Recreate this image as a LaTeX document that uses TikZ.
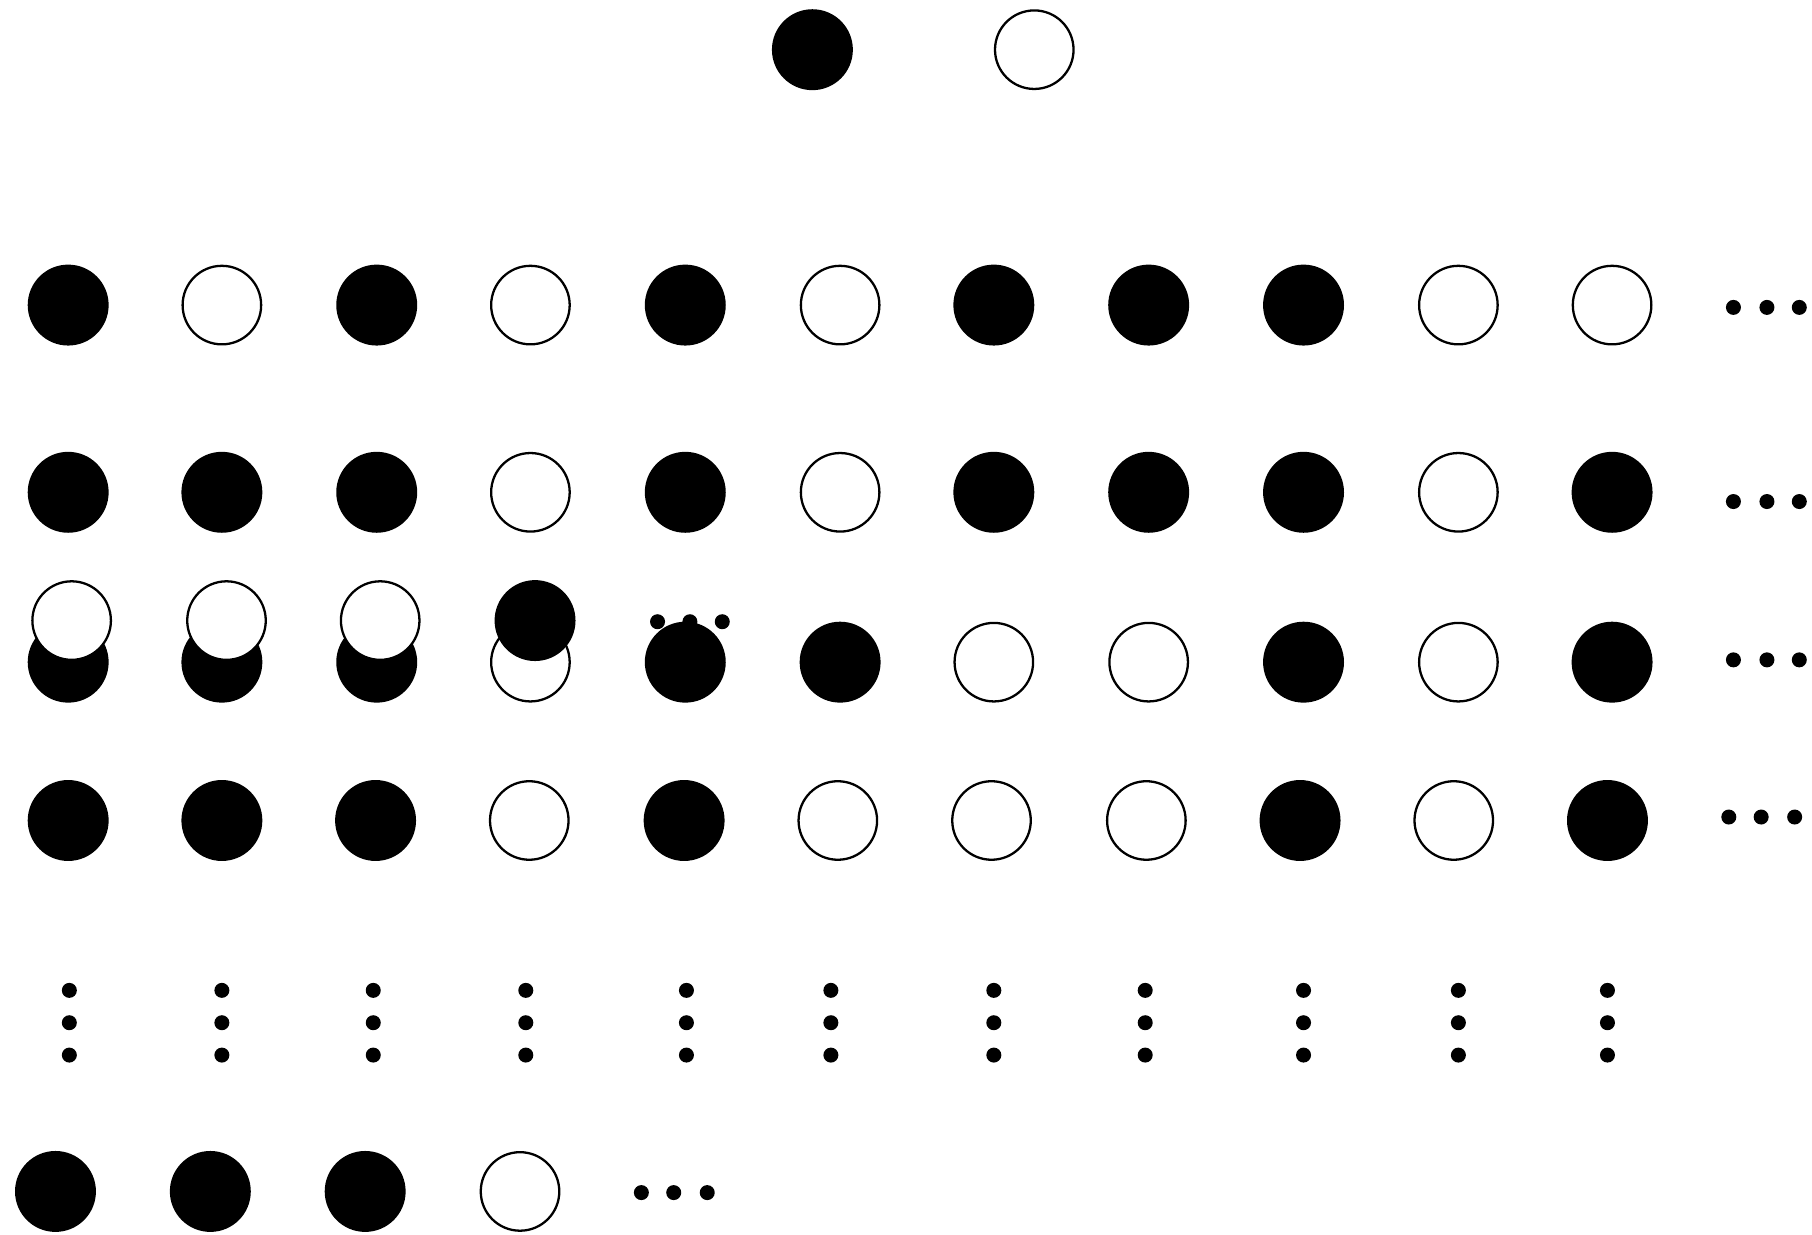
\documentclass[tikz,border=0pt]{standalone}
\begin{document}
\begin{tikzpicture}[x=0.011556cm,y=-0.011556cm,
  bl/.style={circle,fill=black,minimum size=0.809cm,inner sep=0pt,outer sep=0pt},
  wh/.style={circle,draw=black,fill=white,line width=0.65pt,minimum size=0.785cm,inner sep=0pt,outer sep=0pt},
  dt/.style={circle,fill=black,minimum size=0.15cm,inner sep=0pt,outer sep=0pt}]
\useasboundingbox (0,0) rectangle (1568,1068);
% top
\node[bl] (t1) at (703,43) {};
\node[wh] (t2) at (895,43) {};
% row 1
\foreach \x/\s [count=\i] in {59/bl,192/wh,326/bl,459/wh,593/bl,727/wh,860/bl,994/bl,1128/bl,1262/wh,1395/wh}
  \node[\s] (ra\i) at (\x,264) {};
\foreach \x [count=\i] in {1500,1529,1557} \node[dt] (da\i) at (\x,266) {};
% row 2
\foreach \x/\s [count=\i] in {59/bl,192/bl,326/bl,459/wh,593/bl,727/wh,860/bl,994/bl,1128/bl,1262/wh,1395/bl}
  \node[\s] (rb\i) at (\x,426) {};
\foreach \x [count=\i] in {1500,1529,1557} \node[dt] (db\i) at (\x,434) {};
% row 3
\foreach \x/\s [count=\i] in {59/bl,192/bl,326/bl,459/wh,593/bl,727/bl,860/wh,994/wh,1128/bl,1262/wh,1395/bl}
  \node[\s] (rc\i) at (\x,573) {};
\foreach \x [count=\i] in {1500,1529,1557} \node[dt] (dc\i) at (\x,571) {};
% overlay
\foreach \x/\s [count=\i] in {62/wh,196/wh,329/wh,463/bl}
  \node[\s] (ov\i) at (\x,537) {};
\foreach \x [count=\i] in {569,597,625} \node[dt] (do\i) at (\x,538) {};
% row 4
\foreach \x/\s [count=\i] in {59/bl,192/bl,325/bl,458/wh,592/bl,725/wh,858/wh,992/wh,1125/bl,1258/wh,1391/bl}
  \node[\s] (rd\i) at (\x,710) {};
\foreach \x [count=\i] in {1496,1524,1553} \node[dt] (dd\i) at (\x,707) {};
% vertical dots
\foreach \x [count=\i] in {60,192,323,455,594,719,860,991,1128,1262,1391} {
  \node[dt] (va\i) at (\x,857) {};
  \node[dt] (vb\i) at (\x,885) {};
  \node[dt] (vc\i) at (\x,913) {};
}
% bottom row
\foreach \x/\s [count=\i] in {48/bl,182/bl,316/bl,450/wh}
  \node[\s] (re\i) at (\x,1031) {};
\foreach \x [count=\i] in {555,583,612} \node[dt] (de\i) at (\x,1032) {};
\end{tikzpicture}
\end{document}
